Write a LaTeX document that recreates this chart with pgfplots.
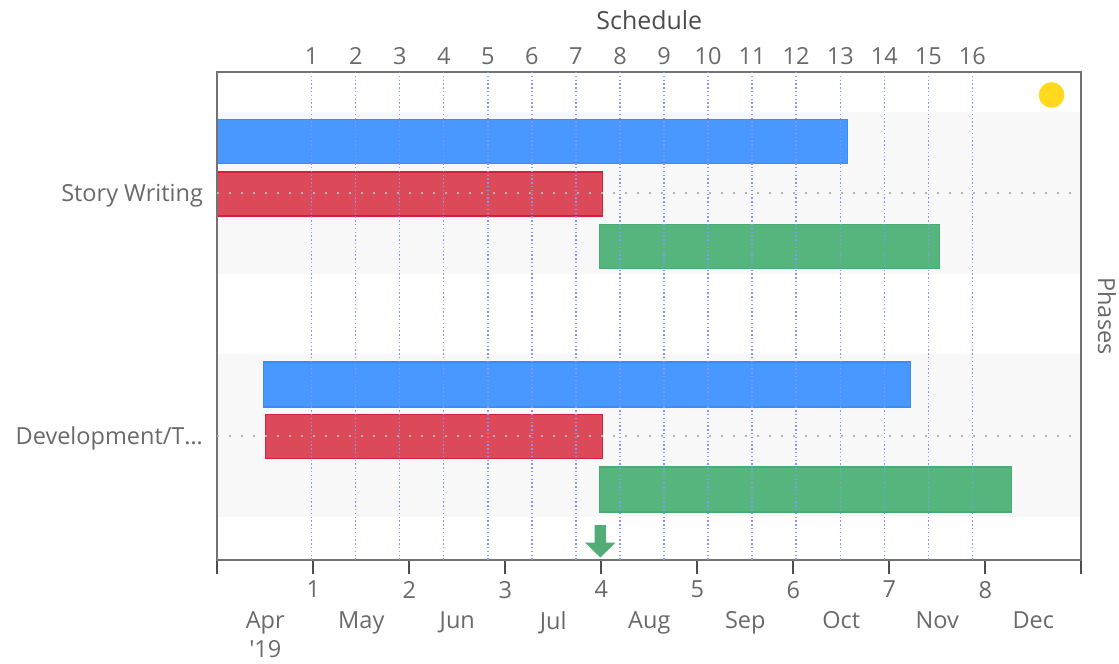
\documentclass[border=0pt]{standalone}
\usepackage{pgfplots}
\pgfplotsset{compat=1.18}
\usepackage{fontspec}
\setmainfont{Open Sans}
\definecolor{barblue}{RGB}{72,152,255}
\definecolor{barblueE}{RGB}{58,140,250}
\definecolor{barred}{RGB}{220,74,90}
\definecolor{barredE}{RGB}{212,32,62}
\definecolor{bargreen}{RGB}{86,181,125}
\definecolor{bargreenE}{RGB}{72,172,114}
\definecolor{band}{RGB}{248,248,248}
\definecolor{gridblue}{RGB}{130,150,255}
\definecolor{gridgreen}{RGB}{60,150,95}
\definecolor{txt}{RGB}{105,105,105}
\definecolor{marky}{RGB}{255,217,30}
\tikzset{tl/.style={font=\fontsize{11.8}{14.8}\selectfont, text=txt}}
\begin{document}
\begin{tikzpicture}
\pgfplotsset{
  common/.style={
    width=432bp, height=244bp, scale only axis,
    xmin=0, xmax=9, ymin=72, ymax=560, y dir=reverse,
  },
  every axis title shift=0pt,
}
\begin{axis}[common, clip=false, axis on top,
  axis line style={black!55, line width=1bp},
  tick align=outside, major tick length=7bp,
  xtick pos=bottom,
  xtick={0,1,2,3,4,5,6,7,8,9},
  xticklabels={,1,2,3,4,5,6,7,8,},
  xtick style={black!70, line width=1bp},
  xticklabel style={tl},
  extra x ticks={0.5,1.5,2.5,3.5,4.5,5.5,6.5,7.5,8.5},
  extra x tick labels={{Apr\\\textquotesingle19},May,Jun,Jul,Aug,Sep,Oct,Nov,Dec},
  extra x tick style={major tick length=0pt, tick label style={yshift=-25.5bp, align=center, inner sep=0pt}},
  ytick={193,435.5},
  yticklabels={Story Writing,Development/T…},
  ytick style={draw=none},
  yticklabel style={tl, inner sep=0pt, yshift=-1.5bp},
  title={Schedule},
  title style={at={(axis description cs:0.5,1.1066)}, anchor=center, inner sep=0pt, font=\fontsize{12.5}{15}\selectfont, text=black!70},
  ylabel={Phases},
  ylabel style={at={(axis description cs:1.0297,0.5)}, anchor=center, rotate=180, inner sep=0pt, tl},
]
% invisible bounding frame of the whole picture
\path (axis cs:-2.2635,0) rectangle (axis cs:9.3927,663);
% phase bands
\addplot[fill=band, draw=none] coordinates {(0,112) (9,112) (9,274) (0,274)} -- cycle;
\addplot[fill=band, draw=none] coordinates {(0,354) (9,354) (9,517) (0,517)} -- cycle;
% Story Writing bars
\addplot[fill=barblue, draw=barblueE, line width=0.6bp] coordinates {(0,119.5) (6.5625,119.5) (6.5625,163.5) (0,163.5)} -- cycle;
\addplot[fill=barred, draw=barredE, line width=0.6bp] coordinates {(0,172) (4.015,172) (4.015,216) (0,216)} -- cycle;
\addplot[fill=bargreen, draw=bargreenE, line width=0.6bp] coordinates {(3.98,224.5) (7.525,224.5) (7.525,268.5) (3.98,268.5)} -- cycle;
% Development bars
\addplot[fill=barblue, draw=barblueE, line width=0.6bp] coordinates {(0.479,362) (7.223,362) (7.223,407) (0.479,407)} -- cycle;
\addplot[fill=barred, draw=barredE, line width=0.6bp] coordinates {(0.504,414.5) (4.015,414.5) (4.015,458.5) (0.504,458.5)} -- cycle;
\addplot[fill=bargreen, draw=bargreenE, line width=0.6bp] coordinates {(3.98,467) (8.275,467) (8.275,512) (3.98,512)} -- cycle;
% today marker arrow
\addplot[fill=bargreen!95!black, draw=none] coordinates {(3.93,525) (4.05,525) (4.05,542.5) (4.15,542.5) (3.99,557.5) (3.83,542.5) (3.93,542.5)} -- cycle;
% yellow status marker
\addplot[only marks, mark=*, mark size=6.2bp, mark options={fill=marky, draw=marky}] coordinates {(8.69,95)};
\end{axis}
\begin{axis}[common,
  axis line style={draw=none},
  xticklabel pos=upper,
  major tick length=0pt,
  xtick={0.983,1.442,1.901,2.359,3.277,3.736,4.195,4.654,5.571,6.030,6.489,6.948,7.865},
  xticklabels={1,2,3,4,6,7,8,9,11,12,13,14,16},
  xticklabel style={tl},
  extra x ticks={2.818,5.112,7.406},
  extra x tick labels={5,10,15},
  extra x tick style={grid style={gridgreen, line width=0.7bp, dash pattern=on 4bp off 1.4bp on 0.8bp off 1.4bp}},
  xmajorgrids,
  x grid style={gridblue, line width=0.7bp, dash pattern=on 0.7bp off 1.2bp},
  ytick={193,435.5}, yticklabels={,},
  ymajorgrids,
  y grid style={black!30, line width=1bp, dash pattern=on 1bp off 5bp},
  ytick style={draw=none},
]
\end{axis}
\end{tikzpicture}
\end{document}
